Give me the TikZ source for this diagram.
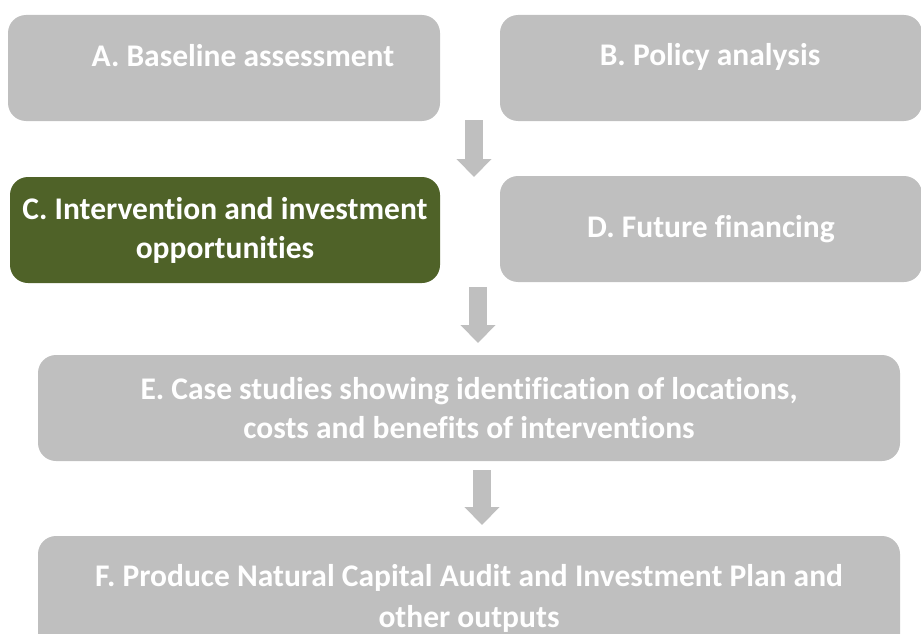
\documentclass[tikz,border=0pt]{standalone}
\usepackage{fontspec}
\setmainfont{Carlito}[Ligatures=CommonOff]
\usepackage{tikz}
\usetikzlibrary{arrows.meta}
\usetikzlibrary{positioning}

\definecolor{boxgrey}{HTML}{BFBFBF}
\definecolor{olive}{HTML}{4F6228}

\tikzset{
  boxfont/.style={text=white, font=\fontsize{31.5}{39}\selectfont\bfseries},
  gbox/.style={boxfont, fill=boxgrey, rounded corners=18pt, inner sep=0pt, align=center},
  cbox/.style={gbox, fill=olive},
  blockarrow/.style={draw=boxgrey, line width=18pt, -{Triangle[width=34pt,length=18pt]}}
}

\begin{document}
\begin{tikzpicture}[x=1pt,y=-1pt]
        	\clip (0,0) rectangle (921,634);
        	\node[gbox, minimum width=432pt, minimum height=106pt] (base) at (224,68) {};
        	\node[boxfont] (basetxt) at (243,56) {A. Baseline assessment};
        	\node[gbox, minimum width=422pt, minimum height=106pt] (policy) at (711,68) {};
        	\node[boxfont] (policytxt) at (710,57) {B. Policy analysis};
        	\node[cbox, minimum width=430pt, minimum height=106pt] (interv) at (225,230) {C. Intervention and investment\\opportunities};
        	\node[gbox, minimum width=422pt, minimum height=106pt] (finance) at (711,229) {D. Future financing};
        	\node[gbox, minimum width=862pt, minimum height=106pt] (cases) at (469,408) {E. Case studies showing identification of locations,\\costs and benefits of interventions};
        	\node[gbox, minimum width=862pt, minimum height=124pt, text depth=4pt] (audit) at (469,598) {F. Produce Natural Capital Audit and Investment Plan and\\[2pt]other outputs};
        	% arrows between the rows
        	\coordinate (s1) at (474,120);
        	\coordinate (t1) at (474,177);
        	\coordinate (s2) at (478,287);
        	\coordinate (t2) at (478,343);
        	\coordinate (s3) at (482,470);
        	\coordinate (t3) at (482,525);
        	\draw[blockarrow] (s1) -- (t1);
        	\draw[blockarrow] (s2) -- (t2);
        	\draw[blockarrow] (s3) -- (t3);
\end{tikzpicture}
\end{document}
